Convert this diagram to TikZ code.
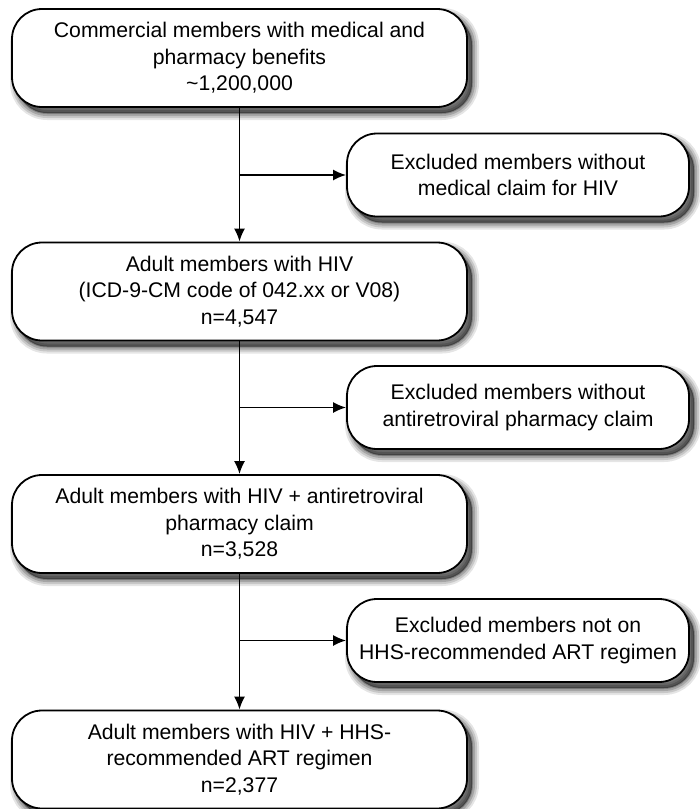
\documentclass[tikz,border=0pt]{standalone}
\usepackage{fontspec}
\setmainfont{Liberation Sans}
\usetikzlibrary{arrows.meta}
\tikzset{
  shadowlayer/.style 2 args={preaction={draw=black, fill=black, draw opacity=#2, fill opacity=#2,
    line width=#1, transform canvas={shift={(2.5pt,-3pt)}}}},
  mainbox/.style={draw=black, line width=0.9pt, fill=white, rounded corners=15pt,
    minimum width=227.5pt, minimum height=49pt, align=center, inner sep=2pt,
    font=\fontsize{10.6}{13.3}\selectfont,
    shadowlayer={7pt}{0.10}, shadowlayer={5pt}{0.13}, shadowlayer={3pt}{0.17}, shadowlayer={1pt}{0.22}},
  exbox/.style={mainbox, minimum width=171pt, minimum height=41.5pt},
  arr/.style={draw=black, line width=0.85pt, -{Latex[length=6.5pt,width=5.5pt]}}
}
\begin{document}
\begin{tikzpicture}[x=0.5pt,y=-0.5pt]
\useasboundingbox (0,0) rectangle (700,809);
\node[mainbox] (b1) at (239.5,58) {Commercial members with medical and\\pharmacy benefits\\\textasciitilde1,200,000};
\node[mainbox] (b2) at (239.5,291.5) {Adult members with HIV\\(ICD-9-CM code of 042.xx or V08)\\n=4,547};
\node[mainbox] (b3) at (239.5,524) {Adult members with HIV + antiretroviral\\pharmacy claim\\n=3,528};
\node[mainbox] (b4) at (239.5,759.5) {Adult members with HIV + HHS-\\recommended ART regimen\\n=2,377};
\node[exbox] (e1) at (518,175) {Excluded members without\\medical claim for HIV};
\node[exbox] (e2) at (518,407.5) {Excluded members without\\antiretroviral pharmacy claim};
\node[exbox] (e3) at (518,640.5) {Excluded members not on\\HHS-recommended ART regimen};
\draw[arr] (b1.south) -- (b2.north);
\draw[arr] (b2.south) -- (b3.north);
\draw[arr] (b3.south) -- (b4.north);
\draw[arr] (b1.south |- e1.west) -- (e1.west);
\draw[arr] (b2.south |- e2.west) -- (e2.west);
\draw[arr] (b3.south |- e3.west) -- (e3.west);
\end{tikzpicture}
\end{document}
